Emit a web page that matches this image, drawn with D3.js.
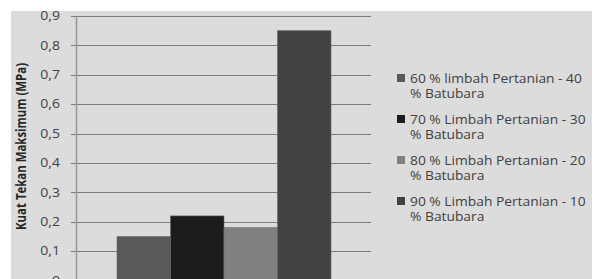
<!DOCTYPE html>
<html>
<head>
<meta charset="utf-8">
<script src="https://cdn.jsdelivr.net/npm/d3@7"></script>
<style>
  html, body { margin: 0; padding: 0; background: #fff; }
  svg { display: block; }
</style>
</head>
<body>
<svg id="chart"></svg>
<script>
const seriesNames = [
  ["60 % limbah Pertanian - 40", "% Batubara"],
  ["70 % Limbah Pertanian - 30", "% Batubara"],
  ["80 % Limbah Pertanian - 20", "% Batubara"],
  ["90 % Limbah Pertanian - 10", "% Batubara"]
];
const seriesValues = [0.15, 0.22, 0.18, 0.85];
const yTicks = [0, 0.1, 0.2, 0.3, 0.4, 0.5, 0.6, 0.7, 0.8, 0.9];
const palette = ["#595959", "#1c1c1c", "#808080", "#424242"];

const W = 592, H = 279;
const SX = 1.17; // the original picture is stretched sideways
const FONT = "'Open Sans', sans-serif";
const svg = d3.select("#chart").attr("width", W).attr("height", H);

// chart area background
svg.append("rect").attr("x", 11).attr("y", 11).attr("width", W - 11).attr("height", H - 11)
  .attr("fill", "#dcdcdc");

const plot = { left: 76, right: 371, top: 16, bottom: 280.6 };
const y = d3.scaleLinear().domain([0, 0.9]).range([plot.bottom, plot.top]);
const x = d3.scaleBand().domain(d3.range(seriesValues.length))
  .range([117, 331]).padding(0);

// gridlines
svg.append("g").selectAll("line").data(yTicks).join("line")
  .attr("x1", plot.left - 5).attr("x2", plot.right)
  .attr("y1", d => Math.round(y(d)) + 0.5).attr("y2", d => Math.round(y(d)) + 0.5)
  .attr("stroke", "#7c7c7c").attr("stroke-width", 1);

// bars
svg.append("g").selectAll("rect").data(seriesValues).join("rect")
  .attr("x", (d, i) => x(i)).attr("width", x.bandwidth())
  .attr("y", d => y(d)).attr("height", d => y(0) - y(d))
  .attr("fill", (d, i) => palette[i])
  .attr("stroke", "#6a6a6a").attr("stroke-width", 0.6);

// y axis line
const ga = svg.append("g").attr("transform", `translate(${plot.left},0)`)
  .call(d3.axisLeft(y).tickValues(yTicks).tickSize(0).tickFormat(""));
ga.select(".domain").attr("stroke", "#9a9a9a").attr("stroke-width", 1.6);

// tick labels (stretched like the source)
const fmt = d => d === 0 ? "0" : d3.format(".1f")(d).replace(".", ",");
svg.append("g").selectAll("text").data(yTicks).join("text")
  .attr("transform", d => `translate(60,${y(d)}) scale(${SX},1)`)
  .attr("dy", "0.35em").attr("text-anchor", "end")
  .attr("fill", "#404040")
  .style("font-family", FONT).style("font-size", "12px")
  .text(fmt);

// y axis title (narrow bold face, squeezed to the source length)
svg.append("text")
  .attr("transform", `translate(26,146.5) scale(${SX},1) rotate(-90)`)
  .attr("text-anchor", "middle")
  .attr("textLength", 167).attr("lengthAdjust", "spacingAndGlyphs")
  .style("font-family", FONT).style("font-size", "12.5px")
  .style("font-weight", "bold").attr("fill", "#262626")
  .text("Kuat Tekan Maksimum (MPa)");

// legend
const legend = svg.append("g").selectAll("g").data(seriesNames).join("g")
  .attr("transform", (d, i) => `translate(397,${78 + i * 41})`);
legend.append("rect").attr("x", 0).attr("y", -4).attr("width", 8).attr("height", 8)
  .attr("fill", (d, i) => palette[i]);
legend.append("text")
  .attr("transform", `translate(13,4.5) scale(${SX},1)`)
  .style("font-family", FONT).style("font-size", "11.8px")
  .attr("fill", "#404040")
  .selectAll("tspan").data(d => d).join("tspan")
  .attr("x", 0).attr("dy", (d, i) => i === 0 ? 0 : 16)
  .text(d => d);
</script>
</body>
</html>
